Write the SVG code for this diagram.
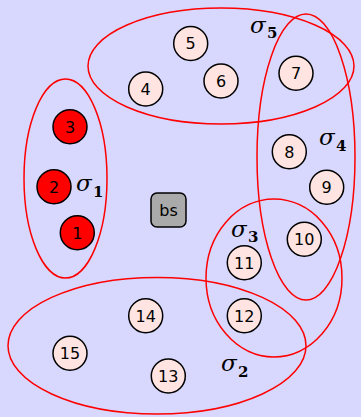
<svg xmlns="http://www.w3.org/2000/svg" width="361" height="417" viewBox="0 0 361 417">
<style>
.bg{fill:#d8d8ff}
.n circle{fill:#ffe4e1;stroke:#000;stroke-width:1.5}
.r circle{fill:#ff0000;stroke:#000;stroke-width:1.5}
.n text,.r text,.b text{font-family:"DejaVu Sans",sans-serif;font-size:16px;text-anchor:middle;fill:#000}
.set{fill:none;stroke:#ff0000;stroke-width:1.5}
.sig{font-family:"DejaVu Serif","Liberation Serif",serif;font-style:italic;font-size:23px;fill:#000}
.sub{font-family:"DejaVu Serif","Liberation Serif",serif;font-weight:bold;font-size:15px;fill:#000}
</style>
<rect class="bg" x="0" y="0" width="361" height="417"/>
<g id="connectors"></g>
<g id="sets">
<ellipse class="set" cx="221" cy="66" rx="133" ry="58"/>
<ellipse class="set" cx="65.5" cy="178.5" rx="41.5" ry="99.5"/>
<ellipse class="set" cx="306" cy="157" rx="49" ry="143"/>
<ellipse class="set" cx="274" cy="278" rx="68" ry="79"/>
<ellipse class="set" cx="157" cy="345.7" rx="149" ry="68.3"/>
</g>
<g id="labels">
<text class="sig" x="250" y="33">σ</text><text class="sub" x="267" y="37.5">5</text>
<text class="sig" x="319" y="145">σ</text><text class="sub" x="336" y="150.5">4</text>
<text class="sig" x="76" y="191">σ</text><text class="sub" x="93" y="196.5">1</text>
<text class="sig" x="231" y="237">σ</text><text class="sub" x="248" y="241.5">3</text>
<text class="sig" x="221" y="371">σ</text><text class="sub" x="238" y="376.5">2</text>
</g>
<g id="n1" class="r"><circle cx="77.3" cy="232.7" r="17"/><text x="77.3" y="238.5">1</text></g>
<g id="n2" class="r"><circle cx="54" cy="186.7" r="17"/><text x="54" y="192.5">2</text></g>
<g id="n3" class="r"><circle cx="70" cy="126.7" r="17"/><text x="70" y="132.5">3</text></g>
<g id="n4" class="n"><circle cx="145.7" cy="89" r="17"/><text x="145.7" y="94.8">4</text></g>
<g id="n5" class="n"><circle cx="190.7" cy="43.5" r="17"/><text x="190.7" y="49.3">5</text></g>
<g id="n6" class="n"><circle cx="221" cy="81" r="17"/><text x="221" y="86.8">6</text></g>
<g id="n7" class="n"><circle cx="296" cy="73.3" r="17"/><text x="296" y="79.1">7</text></g>
<g id="n8" class="n"><circle cx="289.3" cy="151.7" r="17"/><text x="289.3" y="157.5">8</text></g>
<g id="n9" class="n"><circle cx="326.7" cy="187.3" r="17"/><text x="326.7" y="193.1">9</text></g>
<g id="n10" class="n"><circle cx="304.3" cy="239.3" r="17"/><text x="304.3" y="245.1">10</text></g>
<g id="n11" class="n"><circle cx="244.3" cy="262.7" r="17"/><text x="244.3" y="268.5">11</text></g>
<g id="n12" class="n"><circle cx="244.3" cy="315.7" r="17"/><text x="244.3" y="321.5">12</text></g>
<g id="n13" class="n"><circle cx="168.3" cy="376" r="17"/><text x="168.3" y="381.8">13</text></g>
<g id="n14" class="n"><circle cx="145.7" cy="315.7" r="17"/><text x="145.7" y="321.5">14</text></g>
<g id="n15" class="n"><circle cx="70" cy="353.3" r="17"/><text x="70" y="359.1">15</text></g>
<g id="bs" class="b"><rect x="151" y="193" width="35" height="34" rx="6" fill="#aaaaaa" stroke="#000" stroke-width="1.5"/><text x="168.5" y="215.8">bs</text></g>
</svg>
